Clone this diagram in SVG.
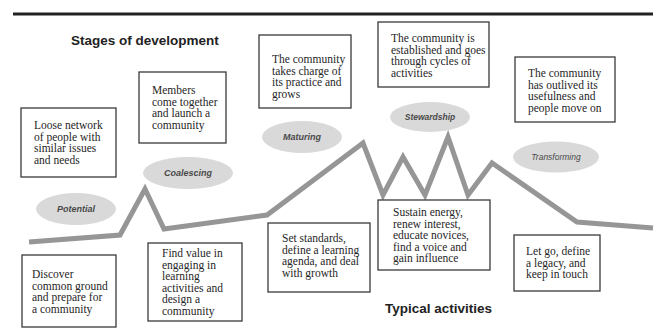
<svg xmlns="http://www.w3.org/2000/svg" width="658" height="329" viewBox="0 0 658 329">
<style>
.box{fill:#fff;stroke:#3a3a3a;stroke-width:1.3}
.t{font-family:"Liberation Serif","Times New Roman",serif;font-size:11.5px;fill:#262626}
.ell{fill:#d9d9d9}
.el{font-family:"Liberation Sans",Arial,sans-serif;font-size:9px;font-style:italic;font-weight:bold;fill:#4a4a4a;text-anchor:middle}
.title{font-family:"Liberation Sans",Arial,sans-serif;font-size:13.5px;font-weight:bold;fill:#222}
.curve{fill:none;stroke:#969696;stroke-width:5;stroke-linejoin:miter;stroke-miterlimit:10}
</style>
<rect width="658" height="329" fill="#fff"/>
<line x1="13" y1="14" x2="653" y2="14" stroke="#222" stroke-width="3"/>
<text class="title" x="71" y="45">Stages of development</text>
<text class="title" x="385" y="313">Typical activities</text>

<g id="connectors">
<polyline class="curve" points="29,242 120,235 145,189 164,229 267,215 363,143 383,195 403,157 425,195 448,137 468,195 492,163 577,222 653,228"/>
</g>

<g id="stage-potential"><ellipse class="ell" cx="76" cy="209" rx="40" ry="16"/><text class="el" x="76" y="212">Potential</text></g>
<g id="stage-coalescing"><ellipse class="ell" cx="188" cy="173" rx="45" ry="16"/><text class="el" x="188" y="176">Coalescing</text></g>
<g id="stage-maturing"><ellipse class="ell" cx="302" cy="137" rx="40" ry="16"/><text class="el" x="302" y="140">Maturing</text></g>
<g id="stage-stewardship"><ellipse class="ell" cx="430" cy="117" rx="40" ry="15"/><text class="el" x="430" y="120" style="font-size:8.5px">Stewardship</text></g>
<g id="stage-transforming"><ellipse class="ell" cx="556" cy="157" rx="43" ry="15.5"/><text class="el" x="556" y="160" style="font-size:8.5px;font-weight:normal">Transforming</text></g>

<g id="desc-potential"><rect class="box" x="21" y="108" width="95" height="69"/>
<text class="t" x="34" y="129"><tspan x="34">Loose network</tspan><tspan x="34" dy="11.5">of people with</tspan><tspan x="34" dy="11.5">similar issues</tspan><tspan x="34" dy="11.5">and needs</tspan></text></g>

<g id="desc-coalescing"><rect class="box" x="139" y="72" width="87" height="71"/>
<text class="t" x="152" y="94"><tspan x="152">Members</tspan><tspan x="152" dy="11.5">come together</tspan><tspan x="152" dy="11.5">and launch a</tspan><tspan x="152" dy="11.5">community</tspan></text></g>

<g id="desc-maturing"><rect class="box" x="259" y="35" width="92" height="73"/>
<text class="t" x="272" y="63"><tspan x="272">The community</tspan><tspan x="272" dy="11.5">takes charge of</tspan><tspan x="272" dy="11.5">its practice and</tspan><tspan x="272" dy="11.5">grows</tspan></text></g>

<g id="desc-stewardship"><rect class="box" x="378" y="22" width="111" height="65"/>
<text class="t" x="391" y="42"><tspan x="391">The community is</tspan><tspan x="391" dy="11.5">established and goes</tspan><tspan x="391" dy="11.5">through cycles of</tspan><tspan x="391" dy="11.5">activities</tspan></text></g>

<g id="desc-transforming"><rect class="box" x="515" y="57" width="100" height="65"/>
<text class="t" x="528" y="77"><tspan x="528">The community</tspan><tspan x="528" dy="11.5">has outlived its</tspan><tspan x="528" dy="11.5">usefulness and</tspan><tspan x="528" dy="11.5">people move on</tspan></text></g>

<g id="act-potential"><rect class="box" x="22" y="255" width="94" height="72"/>
<text class="t" x="32" y="278"><tspan x="32">Discover</tspan><tspan x="32" dy="11.5">common ground</tspan><tspan x="32" dy="11.5">and prepare for</tspan><tspan x="32" dy="11.5">a community</tspan></text></g>

<g id="act-coalescing"><rect class="box" x="148" y="243" width="94" height="78"/>
<text class="t" x="162" y="257"><tspan x="162">Find value in</tspan><tspan x="162" dy="11.5">engaging in</tspan><tspan x="162" dy="11.5">learning</tspan><tspan x="162" dy="11.5">activities and</tspan><tspan x="162" dy="11.5">design a</tspan><tspan x="162" dy="11.5">community</tspan></text></g>

<g id="act-maturing"><rect class="box" x="268" y="223" width="102" height="69"/>
<text class="t" x="282" y="242"><tspan x="282">Set standards,</tspan><tspan x="282" dy="11.5">define a learning</tspan><tspan x="282" dy="11.5">agenda, and deal</tspan><tspan x="282" dy="11.5">with growth</tspan></text></g>

<g id="act-stewardship"><rect class="box" x="378" y="200" width="112" height="70"/>
<text class="t" x="393" y="216"><tspan x="393">Sustain energy,</tspan><tspan x="393" dy="11.5">renew interest,</tspan><tspan x="393" dy="11.5">educate novices,</tspan><tspan x="393" dy="11.5">find a voice and</tspan><tspan x="393" dy="11.5">gain influence</tspan></text></g>

<g id="act-transforming"><rect class="box" x="514" y="235" width="86" height="56"/>
<text class="t" x="526" y="255"><tspan x="526">Let go, define</tspan><tspan x="526" dy="11.5">a legacy, and</tspan><tspan x="526" dy="11.5">keep in touch</tspan></text></g>
</svg>
